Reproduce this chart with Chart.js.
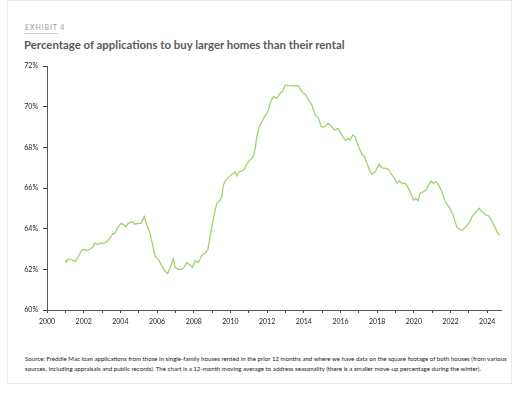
<!DOCTYPE html>
<html>
<head>
<meta charset="utf-8">
<script src="https://cdn.jsdelivr.net/npm/chart.js@4.4.1/dist/chart.umd.min.js"></script>
<style>
  body { margin: 0; background: #fff; font-family: Lato, "Open Sans", sans-serif; }
  .card { position: absolute; left: 7px; top: 0px; width: 503px; height: 382px; border: 1px solid #ececec; }
  .exhibit { position: absolute; left: 25px; top: 23px; font-size: 7px; color: #9a9a9a; letter-spacing: 0.9px; }
  .rule { position: absolute; left: 24px; top: 33px; width: 34px; height: 1px; background: #cfcfcf; }
  .title { position: absolute; left: 24px; top: 38px; font-size: 11.4px; font-weight: bold; color: #5a5a5a; white-space: nowrap; }
  .note { position: absolute; left: 25px; font-size: 6.15px; color: #222; white-space: nowrap; }
  #wrap { position: absolute; left: 0; top: 0; width: 531px; height: 340px; }
</style>
</head>
<body>
<div class="card"></div>
<div class="exhibit">EXHIBIT 4</div>
<div class="rule"></div>
<div class="title">Percentage of applications to buy larger homes than their rental</div>
<div class="note" style="top:355px">Source: Freddie Mac loan applications from those in single-family houses rented in the prior 12 months and where we have data on the square footage of both houses (from various</div>
<div class="note" style="top:365px">sources, including appraisals and public records). The chart is a 12-month moving average to address seasonality (there is a smaller move-up percentage during the winter).</div>
<div id="wrap"><canvas id="myChart"></canvas></div>
<script>
// dates as decimal years, values in percent
const dates = [2001.00, 2001.05, 2001.15, 2001.35, 2001.53, 2001.70, 2001.90, 2002.03, 2002.17, 2002.35,
  2002.50, 2002.62, 2002.76, 2002.90, 2003.07, 2003.25, 2003.43, 2003.60, 2003.70, 2003.85,
  2004.04, 2004.16, 2004.30, 2004.43, 2004.66, 2004.80, 2004.98, 2005.13, 2005.30, 2005.44,
  2005.62, 2005.70, 2005.90, 2006.07, 2006.26, 2006.44, 2006.58, 2006.71, 2006.89, 2006.98,
  2007.16, 2007.35, 2007.49, 2007.62, 2007.80, 2007.93, 2008.07, 2008.25, 2008.44, 2008.62,
  2008.77, 2008.89, 2009.02, 2009.17, 2009.26, 2009.44, 2009.53, 2009.62, 2009.75, 2009.93,
  2010.11, 2010.26, 2010.35, 2010.47, 2010.65, 2010.80, 2010.89, 2011.07, 2011.25, 2011.35,
  2011.44, 2011.57, 2011.71, 2011.86, 2011.99, 2012.07, 2012.22, 2012.35, 2012.53, 2012.71,
  2012.84, 2012.98, 2013.16, 2013.35, 2013.53, 2013.71, 2013.89, 2014.07, 2014.26, 2014.44,
  2014.62, 2014.80, 2014.95, 2015.13, 2015.31, 2015.49, 2015.67, 2015.86, 2016.04, 2016.26,
  2016.40, 2016.53, 2016.66, 2016.80, 2016.98, 2017.17, 2017.31, 2017.44, 2017.58, 2017.71,
  2017.89, 2018.11, 2018.26, 2018.44, 2018.62, 2018.77, 2018.95, 2019.08, 2019.20, 2019.35,
  2019.53, 2019.71, 2019.86, 2019.98, 2020.11, 2020.22, 2020.35, 2020.53, 2020.66, 2020.80,
  2020.95, 2021.07, 2021.20, 2021.35, 2021.53, 2021.71, 2021.93, 2022.11, 2022.22, 2022.35,
  2022.53, 2022.66, 2022.84, 2023.02, 2023.17, 2023.35, 2023.57, 2023.71, 2023.93, 2024.08,
  2024.22, 2024.40, 2024.59, 2024.71];
const moveUpShare = [62.46, 62.35, 62.50, 62.47, 62.38, 62.62, 62.95, 62.98, 62.93, 63.00,
  63.10, 63.30, 63.22, 63.30, 63.27, 63.35, 63.52, 63.77, 63.76, 64.05,
  64.26, 64.20, 64.10, 64.26, 64.34, 64.22, 64.26, 64.26, 64.59, 64.18,
  63.77, 63.44, 62.62, 62.49, 62.17, 61.90, 61.80, 62.05, 62.51, 62.10,
  62.00, 62.00, 62.13, 62.33, 62.21, 62.10, 62.42, 62.33, 62.70, 62.79,
  62.98, 63.60, 64.26, 64.92, 65.25, 65.41, 65.57, 66.15, 66.39, 66.56,
  66.69, 66.80, 66.59, 66.80, 66.84, 66.97, 67.18, 67.38, 67.54, 67.95,
  68.52, 69.01, 69.26, 69.51, 69.67, 69.84, 70.30, 70.50, 70.41, 70.66,
  70.74, 71.07, 71.03, 71.02, 71.03, 71.02, 70.74, 70.60, 70.33, 70.08,
  69.59, 69.43, 69.01, 69.01, 69.18, 69.05, 68.85, 68.93, 68.66, 68.33,
  68.44, 68.36, 68.61, 68.52, 68.03, 67.67, 67.54, 67.21, 66.88, 66.67,
  66.80, 67.18, 66.99, 66.97, 66.92, 66.69, 66.47, 66.23, 66.36, 66.23,
  66.23, 65.98, 65.66, 65.41, 65.49, 65.37, 65.74, 65.82, 65.90, 66.15,
  66.34, 66.23, 66.31, 66.15, 65.82, 65.33, 65.05, 64.75, 64.43, 64.07,
  63.93, 63.93, 64.10, 64.29, 64.59, 64.79, 65.00, 64.83, 64.67, 64.62,
  64.43, 64.10, 63.74, 63.69];

const xMin = 2000, xMax = 2024.75;
const yMin = 60, yMax = 72, yStep = 2;

const points = dates.map((d, i) => ({ x: d, y: moveUpShare[i] }));
const tickFont = { family: 'Lato', size: 7 };

const ctx = document.getElementById('myChart').getContext('2d');
const myChart = new Chart(ctx, {
  type: 'line',
  data: {
    datasets: [{
      label: 'Move-up share',
      data: points,
      borderColor: '#a2d26e',
      borderWidth: 1.3,
      pointRadius: 0,
      tension: 0
    }]
  },
  options: {
    responsive: true,
    maintainAspectRatio: false,
    animation: false,
    layout: { padding: { left: 7, right: 30, top: 66, bottom: 5 } },
    plugins: { legend: { display: false }, tooltip: { enabled: false } },
    scales: {
      x: {
        type: 'linear',
        min: xMin,
        max: xMax,
        afterFit: s => { s.height = 25; },
        grid: { drawOnChartArea: false, tickLength: 3, color: '#444' },
        border: { color: '#555', width: 1 },
        ticks: {
          stepSize: 1,
          includeBounds: false,
          autoSkip: false,
          maxRotation: 0,
          padding: 5,
          color: '#222',
          font: tickFont,
          callback: v => (v % 2 === 0 ? String(v) : '')
        }
      },
      y: {
        min: yMin,
        max: yMax,
        afterFit: s => { s.width = 40; },
        grid: { drawOnChartArea: false, tickLength: 4, color: '#444' },
        border: { color: '#555', width: 1 },
        ticks: {
          stepSize: yStep,
          padding: 5,
          color: '#222',
          font: tickFont,
          callback: v => v + '%'
        }
      }
    }
  }
});
</script>
</body>
</html>
